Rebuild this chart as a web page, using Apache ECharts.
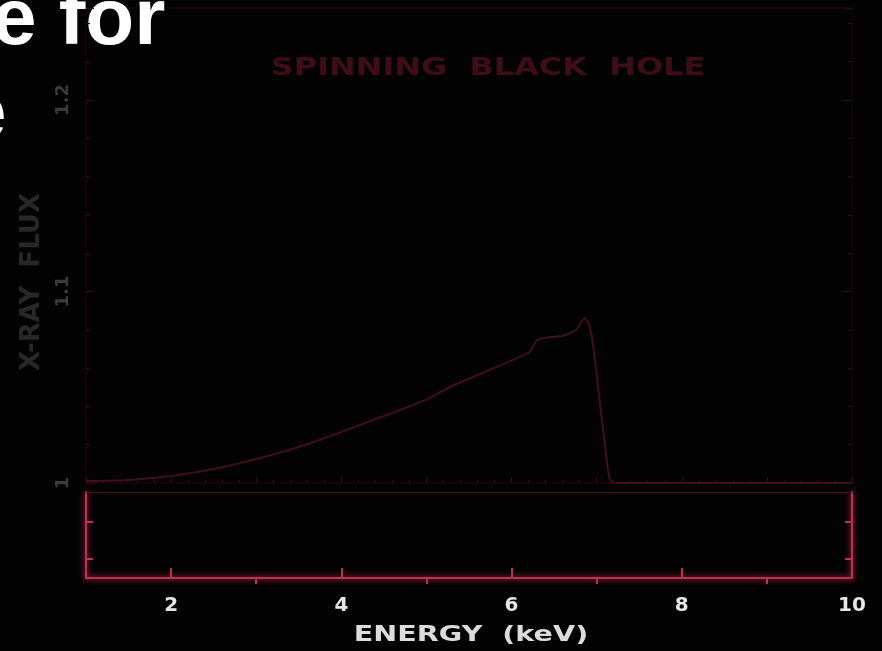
<!DOCTYPE html>
<html>
<head>
<meta charset="utf-8">
<script src="https://cdn.jsdelivr.net/npm/echarts@6/dist/echarts.min.js"></script>
<style>
  html, body { margin: 0; padding: 0; background: #030303; }
  #chart { width: 882px; height: 651px; }
</style>
</head>
<body>
<div id="chart"></div>
<script>
// spectrum: [energy keV, x-ray flux]
var energy = [1.0, 1.5, 2.0, 2.5, 3.0, 3.5, 4.0, 4.5, 5.0, 5.27, 5.74, 6.21, 6.3, 6.45, 6.6, 6.76, 6.86, 6.92, 6.97, 7.03, 7.09, 7.15, 7.2, 8.0, 9.0, 10.0];
var flux = [1.001, 1.0016, 1.0037, 1.0073, 1.0125, 1.0188, 1.0266, 1.035, 1.0435, 1.050, 1.059, 1.0684, 1.0746, 1.0762, 1.0768, 1.080, 1.0862, 1.0815, 1.068, 1.045, 1.0225, 1.0026, 1.0, 1.0, 1.0, 1.0];

var xMajor = [2, 4, 6, 8];
var xMinor = [3, 5, 7, 9];
var xLabels = [2, 4, 6, 8, 10];
var fluxLabels = [1, 1.1, 1.2];
var residTicks = [0.22, 0.65];

var dimRed = '#3a0c15';
var brightRed = '#b8344f';

var chart = echarts.init(document.getElementById('chart'));

var spectrum = energy.map(function (e, i) { return [e, flux[i]]; });

var option = {
  backgroundColor: '#030303',
  animation: false,
  grid: [
    { left: 86, top: 8, width: 766, height: 475, show: true, borderColor: dimRed, borderWidth: 1, borderType: 'dotted' },
    { left: 86, top: 492, width: 766, height: 86 }
  ],
  xAxis: [
    {
      gridIndex: 0, type: 'value', min: 1, max: 10, interval: 1,
      axisLine: { show: false },
      axisTick: { show: true, inside: true, length: 6, lineStyle: { color: dimRed } },
      minorTick: { show: true, splitNumber: 5, length: 3, lineStyle: { color: dimRed } },
      axisLabel: { show: false },
      splitLine: { show: false }
    },
    {
      gridIndex: 1, type: 'value', min: 1, max: 10, interval: 1,
      axisLine: { show: true, lineStyle: { color: brightRed, width: 2, shadowBlur: 6, shadowColor: '#ff3060' } },
      axisTick: { show: true, inside: true, length: 10, customValues: xMajor, lineStyle: { color: brightRed, width: 2 } },
      axisLabel: {
        customValues: xLabels, color: '#e6e6e6', fontFamily: 'DejaVu Sans', fontWeight: 'bold',
        fontSize: 20, margin: 18
      },
      splitLine: { show: false }
    },
    {
      gridIndex: 1, type: 'value', min: 1, max: 10, interval: 1,
      axisLine: { show: false },
      axisTick: { show: true, inside: true, length: 6, customValues: xMinor, lineStyle: { color: brightRed, width: 2 } },
      axisLabel: { show: false },
      splitLine: { show: false }
    },
    {
      gridIndex: 1, type: 'value', min: 1, max: 10, position: 'top',
      axisLine: { show: true, lineStyle: { color: '#4a1020', width: 1 } },
      axisTick: { show: false }, axisLabel: { show: false }, splitLine: { show: false }
    }
  ],
  yAxis: [
    {
      gridIndex: 0, type: 'value', min: 1, max: 1.248, interval: 0.1,
      axisLine: { show: false },
      axisTick: { show: true, inside: true, length: 8, lineStyle: { color: dimRed } },
      minorTick: { show: true, splitNumber: 5, length: 4, lineStyle: { color: dimRed } },
      axisLabel: {
        customValues: fluxLabels, rotate: 90, color: '#3c3c3c', fontFamily: 'DejaVu Sans',
        fontWeight: 'bold', fontSize: 18, margin: 14,
        formatter: function (v) { return String(Math.round(v * 10) / 10); }
      },
      splitLine: { show: false }
    },
    {
      gridIndex: 0, type: 'value', min: 1, max: 1.248, interval: 0.1, position: 'right',
      axisLine: { show: false },
      axisTick: { show: true, inside: true, length: 8, lineStyle: { color: dimRed } },
      minorTick: { show: true, splitNumber: 5, length: 4, lineStyle: { color: dimRed } },
      axisLabel: { show: false },
      splitLine: { show: false }
    },
    {
      gridIndex: 1, type: 'value', min: 0, max: 1,
      axisLine: { show: true, lineStyle: { color: brightRed, width: 2, shadowBlur: 6, shadowColor: '#ff3060' } },
      axisTick: { show: true, inside: true, length: 7, customValues: residTicks, lineStyle: { color: brightRed, width: 2 } },
      axisLabel: { show: false },
      splitLine: { show: false }
    },
    {
      gridIndex: 1, type: 'value', min: 0, max: 1, position: 'right',
      axisLine: { show: true, lineStyle: { color: brightRed, width: 2, shadowBlur: 6, shadowColor: '#ff3060' } },
      axisTick: { show: true, inside: true, length: 7, customValues: residTicks, lineStyle: { color: brightRed, width: 2 } },
      axisLabel: { show: false },
      splitLine: { show: false }
    }
  ],
  series: [
    {
      type: 'line', xAxisIndex: 0, yAxisIndex: 0,
      data: spectrum, showSymbol: false, smooth: 0.2,
      lineStyle: { color: '#3e1019', width: 2 }
    }
  ],
  graphic: [
    {
      type: 'text', x: 488, y: 57, scaleX: 1.33,
      style: { text: 'SPINNING  BLACK  HOLE', fill: '#3e0d17', font: 'bold 24px "DejaVu Sans"', textAlign: 'center' }
    },
    {
      type: 'text', x: 471, y: 624, scaleX: 1.3,
      style: { text: 'ENERGY  (keV)', fill: '#dcdcdc', font: 'bold 22px "DejaVu Sans"', textAlign: 'center' }
    },
    {
      type: 'text', rotation: Math.PI / 2, x: 32, y: 282,
      style: { text: 'X-RAY  FLUX', fill: '#282828', font: 'bold 26px "DejaVu Sans"', textAlign: 'center', textVerticalAlign: 'middle' }
    },
    {
      type: 'text', x: -8, y: -18,
      style: { text: 'e for', fill: '#ffffff', font: 'bold 80px "Liberation Sans"' }
    },
    {
      type: 'text', x: -38, y: 76,
      style: { text: 'e', fill: '#ffffff', font: 'bold 80px "Liberation Sans"' }
    }
  ]
};

chart.setOption(option);
</script>
</body>
</html>
